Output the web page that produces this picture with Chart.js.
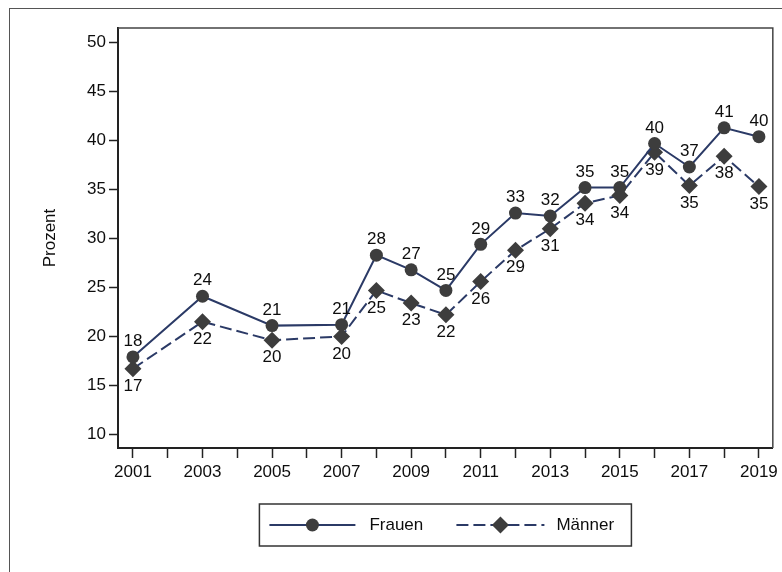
<!DOCTYPE html>
<html>
<head>
<meta charset="utf-8">
<script src="https://cdn.jsdelivr.net/npm/chart.js@4/dist/chart.umd.min.js"></script>
<style>
  html, body { margin: 0; padding: 0; background: #fff; overflow: hidden; }
  #frame { position: absolute; left: 9px; top: 8px; width: 800px; height: 600px; border: 1.5px solid #555; }
  #chart { position: absolute; left: 0; top: 0; }
</style>
</head>
<body>
<div id="frame"></div>
<canvas id="chart" width="782" height="572"></canvas>
<script>
// Survey years (gap years 2002, 2004, 2006 have no data)
const years   = [2001, 2003, 2005, 2007, 2008, 2009, 2010, 2011, 2012, 2013, 2014, 2015, 2016, 2017, 2018, 2019];
const frauen  = [17.9, 24.1, 21.1, 21.2, 28.3, 26.8, 24.7, 29.4, 32.6, 32.3, 35.2, 35.2, 39.7, 37.3, 41.3, 40.4];
const maenner = [16.7, 21.5, 19.6, 20.0, 24.7, 23.4, 22.2, 25.6, 28.8, 31.0, 33.6, 34.4, 38.8, 35.4, 38.4, 35.3];

// Axis ticks
const xTicks = [2001, 2002, 2003, 2004, 2005, 2006, 2007, 2008, 2009, 2010, 2011, 2012, 2013, 2014, 2015, 2016, 2017, 2018, 2019];
const xLabels = [2001, 2003, 2005, 2007, 2009, 2011, 2013, 2015, 2017, 2019];
const yTicks = [10, 15, 20, 25, 30, 35, 40, 45, 50];

const navy = "#2b3a66";
const marker = "#3d3d3d";
const ink = "#0d0d0d";

Chart.defaults.font.family = "'Liberation Sans', Arial, Helvetica, sans-serif";
Chart.defaults.font.size = 17;
Chart.defaults.color = ink;

// numbers next to each point
const valueLabels = {
    id: "valueLabels",
    afterDatasetsDraw(chart) {
        const ctx = chart.ctx;
        ctx.save();
        ctx.font = "17px 'Liberation Sans', Arial, sans-serif";
        ctx.fillStyle = ink;
        ctx.textAlign = "center";
        ctx.textBaseline = "middle";
        chart.data.datasets.forEach((ds, i) => {
            const offset = i === 0 ? -15.5 : 17.5;
            chart.getDatasetMeta(i).data.forEach((pt, j) => {
                ctx.fillText(String(Math.round(ds.data[j].y)), pt.x, pt.y + offset);
            });
        });
        ctx.restore();
    }
};

// top and right edges of the plot box
const plotFrame = {
    id: "plotFrame",
    beforeDatasetsDraw(chart) {
        const a = chart.chartArea;
        const ctx = chart.ctx;
        ctx.save();
        ctx.strokeStyle = "#444";
        ctx.lineWidth = 1.5;
        ctx.beginPath();
        ctx.moveTo(a.left, a.top);
        ctx.lineTo(a.right, a.top);
        ctx.lineTo(a.right, a.bottom);
        ctx.stroke();
        ctx.restore();
    }
};

// boxed legend below the axis, line + marker samples
const boxLegend = {
    id: "boxLegend",
    afterDraw(chart) {
        const a = chart.chartArea;
        const ctx = chart.ctx;
        const cx = (a.left + a.right) / 2;
        const left = cx - 186, top = a.bottom + 56, w = 372, h = 42;
        const midY = top + h / 2;
        ctx.save();
        ctx.strokeStyle = "#333";
        ctx.lineWidth = 1.5;
        ctx.strokeRect(left, top, w, h);

        const items = [
            { x0: left + 10, x1: left + 96, tx: left + 110 },
            { x0: left + 197, x1: left + 285, tx: left + 297 }
        ];
        chart.data.datasets.forEach((ds, i) => {
            const it = items[i];
            ctx.strokeStyle = ds.borderColor;
            ctx.lineWidth = ds.borderWidth;
            ctx.setLineDash(ds.borderDash || []);
            ctx.beginPath();
            ctx.moveTo(it.x0, midY);
            ctx.lineTo(it.x1, midY);
            ctx.stroke();
            ctx.setLineDash([]);
            ctx.fillStyle = ds.pointBackgroundColor;
            Chart.helpers.drawPoint(ctx, {
                pointStyle: ds.pointStyle, radius: ds.pointRadius, rotation: 0, borderWidth: 0
            }, (it.x0 + it.x1) / 2, midY);
            ctx.fillStyle = ink;
            ctx.font = "17px 'Liberation Sans', Arial, sans-serif";
            ctx.textAlign = "left";
            ctx.textBaseline = "middle";
            ctx.fillText(ds.label, it.tx, midY);
        });
        ctx.restore();
    }
};

new Chart(document.getElementById("chart"), {
    type: "line",
    data: {
        datasets: [{
            label: "Frauen",
            data: years.map((y, i) => ({ x: y, y: frauen[i] })),
            borderColor: navy,
            borderWidth: 2,
            pointStyle: "circle",
            pointRadius: 6.5,
            pointBackgroundColor: marker,
            pointBorderWidth: 0,
            tension: 0
        }, {
            label: "Männer",
            data: years.map((y, i) => ({ x: y, y: maenner[i] })),
            borderColor: navy,
            borderWidth: 2,
            borderDash: [12, 5],
            pointStyle: "rectRot",
            pointRadius: 8.5,
            pointBackgroundColor: marker,
            pointBorderWidth: 0,
            tension: 0
        }]
    },
    options: {
        responsive: false,
        animation: false,
        devicePixelRatio: 1,
        layout: { padding: { top: 28, right: 8, left: 0, bottom: 0 } },
        plugins: {
            legend: { display: false },
            tooltip: { enabled: false }
        },
        scales: {
            x: {
                type: "linear",
                min: 2000.57,
                max: 2019.4,
                afterBuildTicks: (s) => { s.ticks = xTicks.map(v => ({ value: v })); },
                afterFit: (s) => { s.height = 124; },
                ticks: {
                    autoSkip: false,
                    maxRotation: 0,
                    padding: 4,
                    callback: (v) => xLabels.includes(v) ? String(v) : ""
                },
                grid: { drawOnChartArea: false, tickLength: 10, tickColor: "#222", tickWidth: 1.5 },
                border: { color: "#222", width: 2 }
            },
            y: {
                min: 8.6,
                max: 51.5,
                afterBuildTicks: (s) => { s.ticks = yTicks.map(v => ({ value: v })); },
                afterFit: (s) => { s.width = 118; },
                ticks: { padding: 3 },
                grid: { drawOnChartArea: false, tickLength: 9, tickColor: "#222", tickWidth: 1.5 },
                border: { color: "#222", width: 2 },
                title: { display: true, text: "Prozent", font: { size: 17 }, padding: { top: 40, bottom: 0 } }
            }
        }
    },
    plugins: [valueLabels, plotFrame, boxLegend]
});
</script>
</body>
</html>
